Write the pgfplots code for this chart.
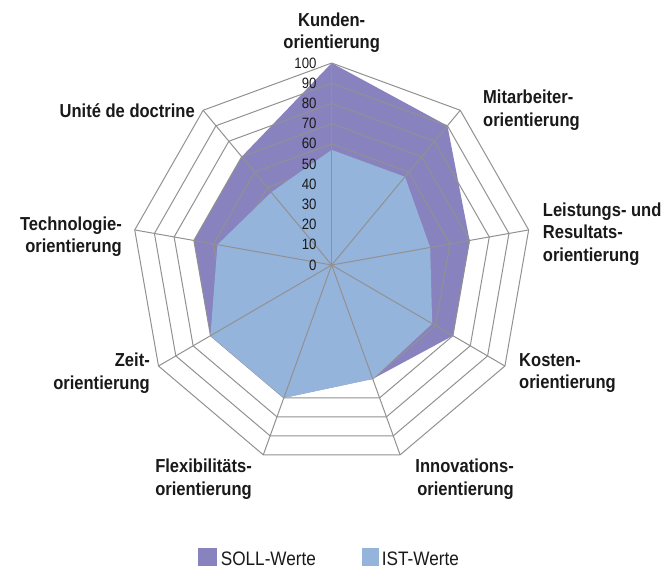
\documentclass[border=0pt]{standalone}
\usepackage{pgfplots}
\pgfplotsset{compat=1.18}
\usepackage{fontspec}
\setmainfont[FakeStretch=0.88]{Liberation Sans}
\definecolor{soll}{RGB}{136,130,190}
\definecolor{ist}{RGB}{149,180,220}
\definecolor{gridc}{RGB}{145,145,145}
\newcommand\lab{\fontsize{18.8bp}{22.3bp}\selectfont\bfseries}
\newcommand\ticklab{\fontsize{15bp}{17bp}\selectfont}
\newcommand\leglab{\fontsize{19.5bp}{22bp}\selectfont}
\begin{document}
\begin{tikzpicture}
\begin{axis}[
  x=2bp, y=2.02bp,
  xmin=-165.85, xmax=165.15, ymin=-150.5, ymax=131.2,
  hide axis, clip=false,
]
% SOLL-Werte (angle, value): Kunden, Mitarbeiter, Leistung, Kosten, Innovation, Flexibilitaet, Zeit, Technologie, Unite
\addplot[fill=soll, draw=none, data cs=polar] coordinates {
  (90,100) (50,90) (10,70) (-30,70) (-70,60) (-110,70) (-150,70) (170,70) (130,70) (90,100)};
% grid rings
\pgfplotsinvokeforeach{10,20,...,100}{
  \addplot[gridc, line width=1bp, data cs=polar] coordinates {
    (90,#1) (50,#1) (10,#1) (-30,#1) (-70,#1) (-110,#1) (-150,#1) (170,#1) (130,#1) (90,#1)};
}
% IST-Werte
\addplot[fill=ist, draw=none, data cs=polar] coordinates {
  (90,57) (50,57) (10,50) (-30,58) (-70,60) (-110,70) (-150,70) (170,58) (130,47) (90,57)};
% spokes
\pgfplotsinvokeforeach{90,50,10,-30,-70,-110,-150,170,130}{
  \addplot[gridc, line width=1bp, data cs=polar] coordinates {(0,0) (#1,100)};
}
% radial tick labels
\pgfplotsinvokeforeach{0,10,...,100}{
  \node[anchor=east, font=\ticklab, inner sep=0pt, text=black!90] at (axis cs:-7.5,#1) {#1};
}
% category labels
\begin{scope}[every node/.style={font=\lab, inner sep=0pt, text=black!90}]
\node[anchor=north, align=center] at (axis cs:0,124.9) {Kunden-\\orientierung};
\node[anchor=north west, align=left] at (axis cs:75.65,86.6) {Mitarbeiter-\\orientierung};
\node[anchor=north west, align=left] at (axis cs:105.5,30.8) {Leistungs- und\\Resultats-\\orientierung};
\node[anchor=north west, align=left] at (axis cs:93.65,-43.6) {Kosten-\\orientierung};
\node[anchor=north east, align=right] at (axis cs:91.15,-96.0) {Innovations-\\orientierung};
\node[anchor=north east, align=right] at (axis cs:-39.85,-96.0) {Flexibilitäts-\\orientierung};
\node[anchor=north east, align=right] at (axis cs:-90.85,-43.6) {Zeit-\\orientierung};
\node[anchor=north east, align=right] at (axis cs:-104.85,23.9) {Technologie-\\orientierung};
\node[anchor=north east, align=right] at (axis cs:-68.35,80.0) {Unité de doctrine};
\end{scope}
% legend
\fill[soll] (axis cs:-66.7,-140.2) rectangle (axis cs:-57.5,-148.9);
\node[anchor=base west, font=\leglab, inner sep=0pt, text=black!90] at (axis cs:-55.5,-148.9) {SOLL-Werte};
\fill[ist] (axis cs:15,-140.2) rectangle (axis cs:23.8,-148.9);
\node[anchor=base west, font=\leglab, inner sep=0pt, text=black!90] at (axis cs:25,-148.9) {IST-Werte};
\end{axis}
\pgfresetboundingbox
\useasboundingbox (current axis.south west) rectangle (current axis.north east);
\end{tikzpicture}
\end{document}
